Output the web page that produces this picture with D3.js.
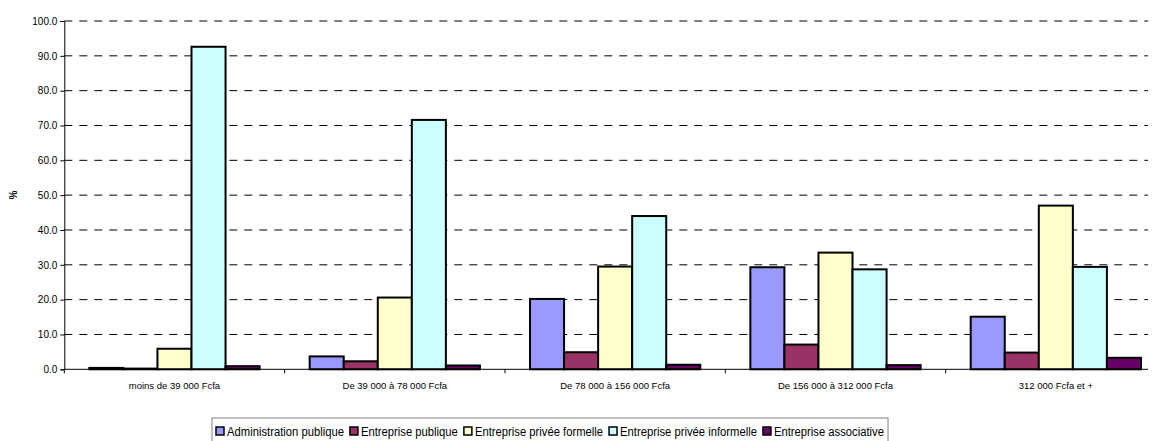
<!DOCTYPE html>
<html>
<head>
<meta charset="utf-8">
<script src="https://cdn.jsdelivr.net/npm/d3@7"></script>
<style>
  html, body { margin: 0; padding: 0; background: #fff; }
  svg { display: block; font-family: "Liberation Sans", Arial, sans-serif; }
</style>
</head>
<body>
<svg id="chart" width="1155" height="441"></svg>
<script>
// Tranches de revenu mensuel
const categories = [
  "moins de 39 000 Fcfa",
  "De 39 000 à 78 000 Fcfa",
  "De 78 000 à 156 000 Fcfa",
  "De 156 000 à 312 000 Fcfa",
  "312 000 Fcfa et +"
];

// Secteurs institutionnels
const seriesNames = [
  "Administration publique",
  "Entreprise publique",
  "Entreprise privée formelle",
  "Entreprise privée informelle",
  "Entreprise associative"
];

const seriesColors = ["#9999FF", "#993366", "#FFFFCC", "#CCFFFF", "#660066"];

// Pourcentages par secteur, une valeur par tranche
const adminPublique      = [0.4, 3.7, 20.2, 29.3, 15.1];
const entreprisePublique = [0.2, 2.3, 4.9, 7.1, 4.8];
const priveeFormelle     = [5.9, 20.6, 29.5, 33.5, 47.0];
const priveeInformelle   = [92.6, 71.6, 44.0, 28.7, 29.4];
const associative        = [0.9, 1.1, 1.3, 1.2, 3.3];

const yTicks = [0, 10, 20, 30, 40, 50, 60, 70, 80, 90, 100];

const seriesValues = [adminPublique, entreprisePublique, priveeFormelle, priveeInformelle, associative];

const svg = d3.select("#chart");

const left = 64.3, plotTop = 21, plotBottom = 369.3, bandRight = 1166, gridRight = 1148;

const x0 = d3.scaleBand().domain(categories).range([left, bandRight]).paddingInner(0).paddingOuter(0);
const x1 = d3.scaleBand().domain(seriesNames).range([0, x0.bandwidth()]).paddingInner(0).paddingOuter(0.735);
const y = d3.scaleLinear().domain([0, 100]).range([plotBottom, plotTop]);

// Grille horizontale en tirets
svg.append("g")
  .selectAll("line")
  .data(yTicks.filter(d => d > 0))
  .join("line")
  .attr("x1", left)
  .attr("x2", gridRight)
  .attr("y1", d => y(d))
  .attr("y2", d => y(d))
  .attr("stroke", "#000")
  .attr("stroke-width", 1)
  .attr("stroke-dasharray", "8,7");

// Barres groupées
const groups = svg.append("g")
  .selectAll("g")
  .data(categories)
  .join("g")
  .attr("transform", d => `translate(${x0(d)},0)`);

groups.selectAll("rect")
  .data((c, i) => seriesNames.map((s, k) => ({ s, k, v: seriesValues[k][i] })))
  .join("rect")
  .attr("x", d => x1(d.s))
  .attr("width", x1.bandwidth())
  .attr("y", d => y(d.v))
  .attr("height", d => y(0) - y(d.v))
  .attr("fill", d => seriesColors[d.k])
  .attr("stroke", "#000")
  .attr("stroke-width", 2);

// Axe vertical
const yAxis = svg.append("g")
  .attr("transform", `translate(${left},0)`)
  .call(d3.axisLeft(y).tickValues(yTicks).tickFormat(d3.format(".1f")).tickSize(4).tickPadding(3));
yAxis.select(".domain").attr("stroke", "#000");
yAxis.selectAll(".tick line").attr("stroke", "#000");
yAxis.selectAll("text").attr("font-size", 10).attr("fill", "#000")
  .attr("font-family", "Liberation Sans, Arial, sans-serif");

// Axe horizontal
const xAxis = svg.append("g")
  .attr("transform", `translate(0,${plotBottom})`);
xAxis.append("line")
  .attr("x1", left).attr("x2", gridRight)
  .attr("y1", 0).attr("y2", 0)
  .attr("stroke", "#000").attr("stroke-width", 1);
xAxis.selectAll("line.tick")
  .data(categories)
  .join("line")
  .attr("class", "tick")
  .attr("x1", d => x0(d)).attr("x2", d => x0(d))
  .attr("y1", 0).attr("y2", 4)
  .attr("stroke", "#000");
xAxis.selectAll("text")
  .data(categories)
  .join("text")
  .attr("x", d => x0(d) + x0.bandwidth() / 2)
  .attr("y", 20)
  .attr("text-anchor", "middle")
  .attr("font-size", 9.5)
  .attr("fill", "#000")
  .text(d => d);

// Titre de l'axe vertical
svg.append("text")
  .attr("transform", "translate(17,195) rotate(-90)")
  .attr("text-anchor", "middle")
  .attr("font-size", 10)
  .attr("font-weight", "bold")
  .attr("fill", "#000")
  .text("%");

// Légende
const legend = svg.append("g");
const legendTop = 418, legendLeft = 212, legendRight = 888;
legend.append("rect")
  .attr("x", legendLeft).attr("y", legendTop)
  .attr("width", legendRight - legendLeft).attr("height", 30)
  .attr("fill", "#fff").attr("stroke", "#808080").attr("stroke-width", 1);

const swatch = 8, swGap = 3, itemGap = 6;
const labels = seriesNames.map(name => {
  const t = legend.append("text")
    .attr("y", 436)
    .attr("font-size", 12.5)
    .attr("fill", "#000")
    .text(name);
  return { t, w: t.node().getComputedTextLength() };
});
const avail = (legendRight - 4) - (legendLeft + 4) - seriesNames.length * (swatch + swGap) - (seriesNames.length - 1) * itemGap;
const squeeze = Math.min(1, avail / d3.sum(labels, d => d.w));

let cx = legendLeft + 4;
labels.forEach((lab, k) => {
  legend.append("rect")
    .attr("x", cx).attr("y", 427)
    .attr("width", swatch).attr("height", swatch)
    .attr("fill", seriesColors[k])
    .attr("stroke", "#000").attr("stroke-width", 1.5);
  const w = lab.w * squeeze;
  lab.t.attr("x", cx + swatch + swGap)
    .attr("textLength", w)
    .attr("lengthAdjust", "spacingAndGlyphs");
  cx += swatch + swGap + w + itemGap;
});
</script>
</body>
</html>
